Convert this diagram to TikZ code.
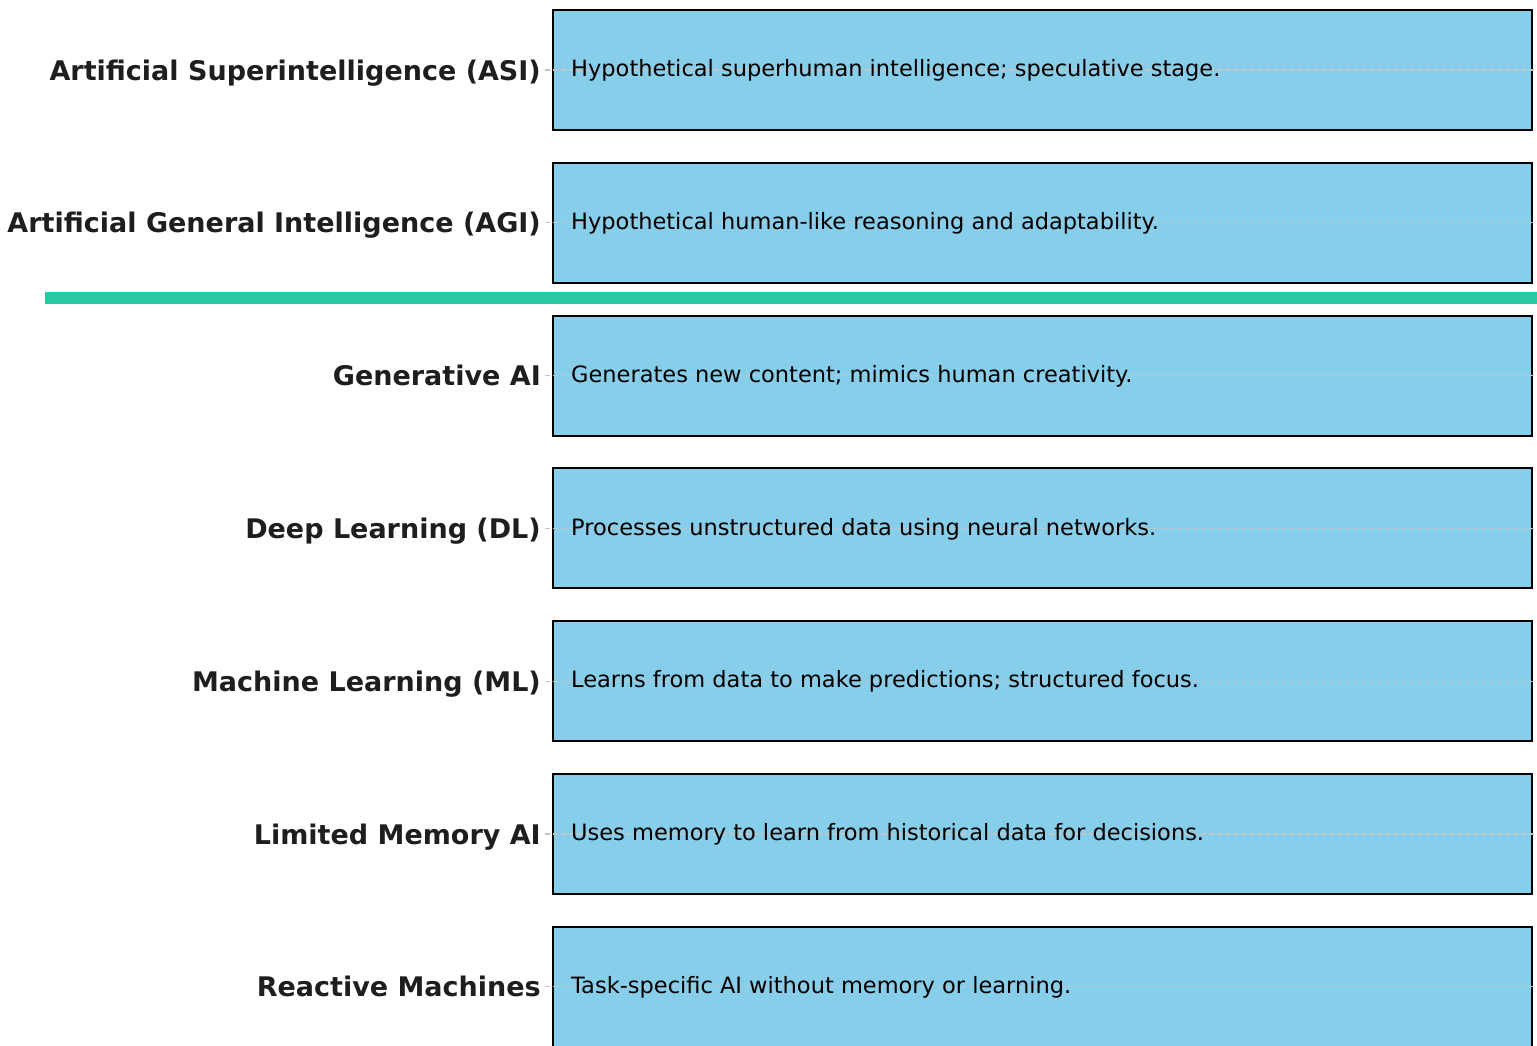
\documentclass[tikz,border=0pt]{standalone}
\usepackage{fontspec}
\setmainfont{DejaVu Sans}
\definecolor{barblue}{RGB}{135,206,235}
\definecolor{splitgreen}{RGB}{40,201,163}
\definecolor{gridgray}{RGB}{196,196,196}
\definecolor{labelgray}{RGB}{30,30,30}

\begin{document}
\begin{tikzpicture}[x=1pt, y=-1pt, node distance=152.8pt,
  level box/.style={draw=black, line width=2pt, fill=barblue, minimum width=979pt, minimum height=120pt, inner sep=0pt},
  level label/.style={anchor=base east, inner sep=0pt, text=labelgray, font=\fontsize{27}{32}\selectfont\bfseries},
  level text/.style={anchor=base west, inner sep=0pt, font=\fontsize{22.5}{27}\selectfont},
  grid line/.style={draw=gridgray, dash pattern=on 5pt off 3pt, line width=1.3pt},
  split line/.style={draw=splitgreen, line width=12pt}]
\useasboundingbox (0,0) rectangle (1537,1045);
\clip (0,0) rectangle (1537,1045);

\node[level box]                (asi)  at (1042.5,70) {};
\node[level box, below of=asi]  (agi)  {};
\node[level box, below of=agi]  (gen)  {};
\node[level box, below of=gen]  (dl)   {};
\node[level box, below of=dl]   (ml)   {};
\node[level box, below of=ml]   (lmem) {};
\node[level box, below of=lmem] (react){};

% dashed grid lines over the boxes
\foreach \row in {asi,agi,gen,dl,ml,lmem,react} {
  \coordinate (\row-end) at ([xshift=4pt]\row.east);
  \draw[grid line] ([xshift=-7pt]\row.west) -- (\row-end);
}

% divider between hypothetical and existing stages
\coordinate (split-l) at (45,298);
\coordinate (split-r) at (1537,298);
\draw[split line] (split-l) -- (split-r);

\node[level label] (asi-lbl)   at ([xshift=-11pt, yshift=-10pt]asi.west)   {Artificial Superintelligence (ASI)};
\node[level label] (agi-lbl)   at ([xshift=-11pt, yshift=-10pt]agi.west)   {Artificial General Intelligence (AGI)};
\node[level label] (gen-lbl)   at ([xshift=-11pt, yshift=-10pt]gen.west)   {Generative AI};
\node[level label] (dl-lbl)    at ([xshift=-11pt, yshift=-10pt]dl.west)    {Deep Learning (DL)};
\node[level label] (ml-lbl)    at ([xshift=-11pt, yshift=-10pt]ml.west)    {Machine Learning (ML)};
\node[level label] (lmem-lbl)  at ([xshift=-11pt, yshift=-10pt]lmem.west)  {Limited Memory AI};
\node[level label] (react-lbl) at ([xshift=-11pt, yshift=-10pt]react.west) {Reactive Machines};

\node[level text] (asi-txt)   at ([xshift=19pt, yshift=-6.7pt]asi.west)   {Hypothetical superhuman intelligence; speculative stage.};
\node[level text] (agi-txt)   at ([xshift=19pt, yshift=-6.7pt]agi.west)   {Hypothetical human-like reasoning and adaptability.};
\node[level text] (gen-txt)   at ([xshift=19pt, yshift=-6.7pt]gen.west)   {Generates new content; mimics human creativity.};
\node[level text] (dl-txt)    at ([xshift=19pt, yshift=-6.7pt]dl.west)    {Processes unstructured data using neural networks.};
\node[level text] (ml-txt)    at ([xshift=19pt, yshift=-6.7pt]ml.west)    {Learns from data to make predictions; structured focus.};
\node[level text] (lmem-txt)  at ([xshift=19pt, yshift=-6.7pt]lmem.west)  {Uses memory to learn from historical data for decisions.};
\node[level text] (react-txt) at ([xshift=19pt, yshift=-6.7pt]react.west) {Task-specific AI without memory or learning.};
\end{tikzpicture}
\end{document}
